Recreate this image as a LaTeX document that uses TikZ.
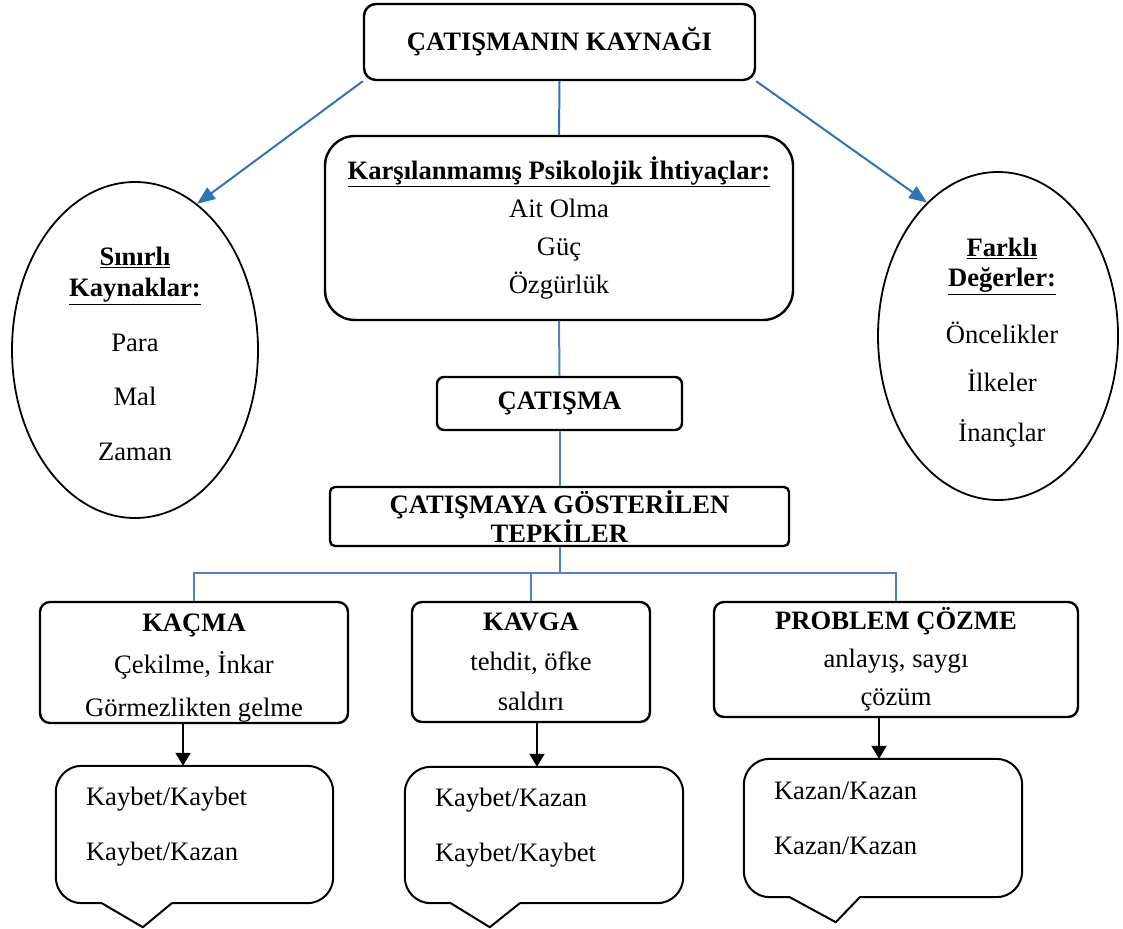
\documentclass[tikz,border=0pt]{standalone}
\usepackage{fontspec}
\setmainfont{Liberation Serif}
\usetikzlibrary{shapes.geometric,arrows.meta,calc}

\definecolor{srcblue}{RGB}{46,117,182}
\definecolor{treeblue}{RGB}{79,129,189}

\tikzset{
  txt/.style={font=\fontsize{26.6}{38}\selectfont, inner sep=0pt, align=center},
  box/.style={draw, line width=2.4pt, rounded corners=10pt, inner sep=0pt, align=center,
              font=\fontsize{26.6}{38}\selectfont},
  oval/.style={draw, ellipse, line width=1.8pt, inner sep=0pt},
  callbox/.style={rectangle, inner sep=0pt},
  callout/.style={line width=2pt, line join=round},
  srcarrow/.style={draw=srcblue, line width=2pt, -{Triangle[length=18pt,width=14pt]}},
  tree/.style={draw=treeblue, line width=2pt},
  downarrow/.style={draw=black, line width=2pt, -{Triangle[length=13pt,width=15pt]}}
}

\begin{document}
\begin{tikzpicture}[x=1pt,y=-1pt]
\useasboundingbox (0,0) rectangle (1123,928);

% sources of conflict
\node[box, rounded corners=12pt, minimum width=391pt, minimum height=76pt] (top) at (559.5,42)
  {\textbf{ÇATIŞMANIN KAYNAĞI}};

\node[box, rounded corners=30pt, minimum width=468pt, minimum height=184pt] (need) at (559,228)
  {\textbf{\underline{Karşılanmamış Psikolojik İhtiyaçlar:}}\\ Ait Olma\\ Güç\\ Özgürlük};

\node[oval, minimum width=246pt, minimum height=336pt] (lim) at (135,350) {};
\node[txt, font=\fontsize{26.6}{31}\selectfont] (limt) at (135,354)
  {\textbf{\underline{Sınırlı}}\\ \textbf{\underline{Kaynaklar:}}\\[24pt] Para\\[23pt] Mal\\[24pt] Zaman};

\node[oval, minimum width=240pt, minimum height=328pt] (val) at (998,336) {};
\node[txt, font=\fontsize{26.6}{30}\selectfont] (valt) at (1002,343)
  {\textbf{\underline{Farklı}}\\ \textbf{\underline{Değerler:}}\\[27pt] Öncelikler\\[18pt] İlkeler\\[20pt] İnançlar};

% conflict and reactions
\node[box, rounded corners=7pt, minimum width=245pt, minimum height=53pt] (con) at (559.5,403.5)
  {\textbf{ÇATIŞMA}};

\node[box, rounded corners=5pt, minimum width=459pt, minimum height=59pt,
      font=\fontsize{26.6}{28}\selectfont] (tep) at (559.5,516.5)
  {\textbf{ÇATIŞMAYA GÖSTERİLEN}\\ \textbf{TEPKİLER}};

\node[box, minimum width=308pt, minimum height=121pt, font=\fontsize{26.6}{42.5}\selectfont] (kac) at (194,662.5)
  {\rule{0pt}{28pt}\textbf{KAÇMA}\\ Çekilme, İnkar\\ Görmezlikten gelme};
\node[box, minimum width=238pt, minimum height=120pt, font=\fontsize{26.6}{40}\selectfont] (kav) at (531,662)
  {\textbf{KAVGA}\\ tehdit, öfke\\ saldırı};
\node[box, minimum width=364pt, minimum height=115pt, font=\fontsize{26.6}{38}\selectfont] (pro) at (896,659.5)
  {\textbf{PROBLEM ÇÖZME}\\ anlayış, saygı\\ çözüm};

% outcome callouts
\node[callbox, minimum width=277pt, minimum height=137pt] (c1) at (194.5,834.5) {};
\node[callbox, minimum width=278pt, minimum height=136pt] (c2) at (544,835) {};
\node[callbox, minimum width=278pt, minimum height=138pt] (c3) at (883,828) {};

\foreach \c/\pa/\pb/\tx/\ty in {c1/46/116/87/24, c2/46/115/85/24, c3/46/116/92/25}{
  \draw[callout] ($(\c.south west)+(\tx,\ty)$) -- ($(\c.south west)+(\pa,0)$)
    [rounded corners=26pt] -- (\c.south west) -- (\c.north west) -- (\c.north east) -- (\c.south east)
    [sharp corners] -- ($(\c.south west)+(\pb,0)$) -- cycle;
}

\node[txt, anchor=west, align=left, font=\fontsize{26.6}{55}\selectfont] (c1t) at ($(c1.north west)+(30,61)$)
  {Kaybet/Kaybet\\ Kaybet/Kazan};
\node[txt, anchor=west, align=left, font=\fontsize{26.6}{55}\selectfont] (c2t) at ($(c2.north west)+(30,61)$)
  {Kaybet/Kazan\\ Kaybet/Kaybet};
\node[txt, anchor=west, align=left, font=\fontsize{26.6}{55}\selectfont] (c3t) at ($(c3.north west)+(30,60)$)
  {Kazan/Kazan\\ Kazan/Kazan};

% connectors
\draw[srcarrow] (top.south west) -- (lim.67);
\draw[srcarrow] (top.south east) -- (val.118);
\draw[draw=srcblue, line width=2pt] (top.south) -- (need.north);
\draw[tree] (need.south) -- (con.north);
\draw[tree] (con.south) -- (tep.north);

\coordinate (bus) at (559.5,573);
\draw[tree] (tep.south) -- (bus);
\draw[tree] (kac.north) |- (bus) -| (pro.north);
\draw[tree] (kav.north) -- (kav.north |- bus);

\coordinate (a1) at (183,0);
\coordinate (a2) at (537,0);
\coordinate (a3) at (879,0);
\draw[downarrow] (kac.south -| a1) -- (c1.north -| a1);
\draw[downarrow] (kav.south -| a2) -- (c2.north -| a2);
\draw[downarrow] (pro.south -| a3) -- (c3.north -| a3);
\end{tikzpicture}
\end{document}
